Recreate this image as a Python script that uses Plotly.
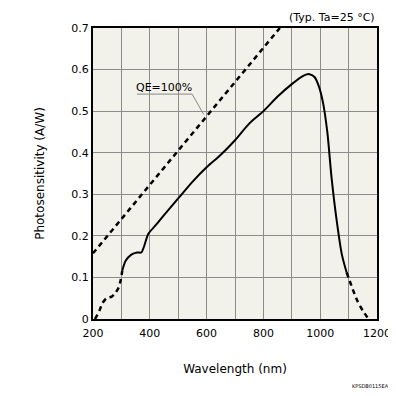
import plotly.graph_objects as go

# Data
qe_wl = [200, 858]
qe_s = [0.158, 0.7]

low_wl = [207, 222, 234, 248, 266, 277, 289, 297, 303]
low_s = [0.0, 0.019, 0.039, 0.05, 0.054, 0.061, 0.074, 0.092, 0.116]

mid_wl = [303, 315, 335, 355, 370, 380, 395, 420, 450, 500, 550, 600, 650, 700,
          750, 800, 850, 900, 940, 962, 980, 995, 1010, 1025, 1040, 1058, 1076, 1093]
mid_s = [0.116, 0.14, 0.155, 0.16, 0.16, 0.175, 0.205, 0.225, 0.25, 0.29, 0.33,
         0.365, 0.395, 0.43, 0.47, 0.5, 0.535, 0.565, 0.585, 0.589, 0.582, 0.56,
         0.52, 0.45, 0.34, 0.237, 0.156, 0.112]

high_wl = [1093, 1110, 1130, 1150, 1170]
high_s = [0.112, 0.08, 0.045, 0.02, 0.0]

leader_wl = [355, 549, 590]
leader_s = [0.541, 0.541, 0.492]

x_ticks = [200, 400, 600, 800, 1000, 1200]
y_ticks = [0, 0.1, 0.2, 0.3, 0.4, 0.5, 0.6, 0.7]
y_labels = ["0", "0.1", "0.2", "0.3", "0.4", "0.5", "0.6", "0.7"]

FONT = "DejaVu Sans, Verdana, sans-serif"
GRID = "#8c8c8c"
DASH = "5px,4px"

fig = go.Figure()
fig.add_trace(go.Scatter(x=qe_wl, y=qe_s, mode="lines",
                         line=dict(color="black", width=2.5, dash=DASH), hoverinfo="skip"))
fig.add_trace(go.Scatter(x=low_wl, y=low_s, mode="lines",
                         line=dict(color="black", width=2.5, dash=DASH, shape="spline", smoothing=0.8)))
fig.add_trace(go.Scatter(x=mid_wl, y=mid_s, mode="lines",
                         line=dict(color="black", width=2, shape="spline", smoothing=0.8)))
fig.add_trace(go.Scatter(x=high_wl, y=high_s, mode="lines",
                         line=dict(color="black", width=2.5, dash=DASH, shape="spline", smoothing=0.8)))
fig.add_trace(go.Scatter(x=leader_wl, y=leader_s, mode="lines",
                         line=dict(color="#888888", width=1)))

fig.add_annotation(x=450, y=0.556, text="QE=100%", showarrow=False,
                   font=dict(family=FONT, size=11, color="black"))
fig.add_annotation(x=1, y=1, xref="paper", yref="paper", xanchor="right", yanchor="bottom",
                   text="(Typ. Ta=25 °C)", showarrow=False, yshift=2,
                   font=dict(family=FONT, size=11, color="black"))
fig.add_annotation(x=1.05, y=-0.23, xref="paper", yref="paper", xanchor="right",
                   yanchor="middle", text="KPSDB0115EA", showarrow=False,
                   font=dict(family=FONT, size=5, color="black"))

fig.update_layout(
    width=388, height=388,
    margin=dict(l=85, r=19, t=20, b=77, autoexpand=False),
    paper_bgcolor="white", plot_bgcolor="#f2f1ea",
    showlegend=False,
    font=dict(family=FONT, size=11, color="black"),
    xaxis=dict(range=[200, 1200], tickvals=x_ticks, ticks="", showgrid=True,
               gridcolor=GRID, gridwidth=1, ticklabelstandoff=3,
               showline=True, linecolor="black", linewidth=2, mirror=True,
               zeroline=False, title=dict(text="Wavelength (nm)", standoff=25,
                                          font=dict(size=12))),
    yaxis=dict(range=[0, 0.7], tickvals=y_ticks, ticktext=y_labels, ticks="",
               showgrid=True, gridcolor=GRID, gridwidth=1,
               showline=True, linecolor="black", linewidth=2, mirror=True,
               zeroline=False, title=dict(text="Photosensitivity (A/W)", standoff=24,
                                          font=dict(size=12))),
)
fig.update_xaxes(minor=dict(dtick=100, showgrid=True, gridcolor=GRID, gridwidth=1))

fig.write_html("out.html")
